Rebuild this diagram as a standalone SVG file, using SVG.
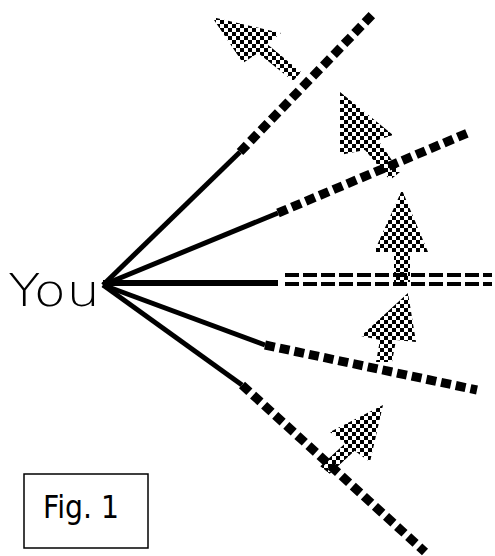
<svg xmlns="http://www.w3.org/2000/svg" width="495" height="556" viewBox="0 0 495 556">
<defs>
<pattern id="chk" width="8" height="8" patternUnits="userSpaceOnUse">
<rect x="0" y="0" width="4" height="4" fill="#000"/>
<rect x="4" y="4" width="4" height="4" fill="#000"/>
</pattern>
<style>
.solid{stroke:#000;stroke-width:5;fill:none;stroke-linecap:butt}
.dash{stroke:#000;stroke-width:9;fill:none;stroke-dasharray:10 5}
.hdash{stroke:#000;stroke-width:4;fill:none;stroke-dasharray:14 4}
.arrow{fill:url(#chk);stroke:none}
.lbl{font-family:"DejaVu Sans","Liberation Sans",sans-serif;font-weight:200}
</style>
</defs>
<rect width="495" height="556" fill="#fff"/>
<g id="connectors">
<line class="solid" x1="103" y1="285" x2="240" y2="152"/>
<line class="dash" x1="240" y1="152" x2="372" y2="15"/>
<line class="solid" x1="103" y1="285" x2="278" y2="213"/>
<line class="dash" x1="278" y1="213" x2="470" y2="132"/>
<line class="solid" x1="103" y1="283" x2="278" y2="283" style="stroke-width:6"/>
<line class="hdash" x1="285" y1="275" x2="492" y2="275"/>
<line class="hdash" x1="285" y1="284" x2="492" y2="284"/>
<line class="solid" x1="103" y1="285" x2="265" y2="345"/>
<line class="dash" x1="265" y1="345" x2="477" y2="390"/>
<line class="solid" x1="103" y1="285" x2="242" y2="385"/>
<line class="dash" x1="242" y1="385" x2="425" y2="552"/>
</g>
<g id="arrow1"><polygon class="arrow" points="212,17 281,33 267,44 301,72 293,81 258,53 243,63"/></g>
<g id="arrow2"><polygon class="arrow" points="340,92 393,135 378,140 400,172 390,180 365,150 340,155"/></g>
<g id="arrow3"><polygon class="arrow" points="402,190 428,252 410,252 410,282 394,282 394,252 374,252"/></g>
<g id="arrow4"><polygon class="arrow" points="408,293 416,342 396,340 392,362 376,362 380,340 361,336"/></g>
<g id="arrow5"><polygon class="arrow" points="383,405 370,462 354.7,450.7 329.7,473.7 320.3,466.3 345.3,443.3 330,432"/></g>
<g id="you"><text class="lbl" x="8" y="306" font-size="44" textLength="92" lengthAdjust="spacingAndGlyphs">You</text></g>
<g id="fig1">
<rect x="24" y="474" width="124" height="74" fill="#fff" stroke="#000" stroke-width="1.5"/>
<text x="43" y="518" font-family="'DejaVu Sans','Liberation Sans',sans-serif" font-size="32" textLength="76" lengthAdjust="spacingAndGlyphs">Fig. 1</text>
</g>
</svg>
